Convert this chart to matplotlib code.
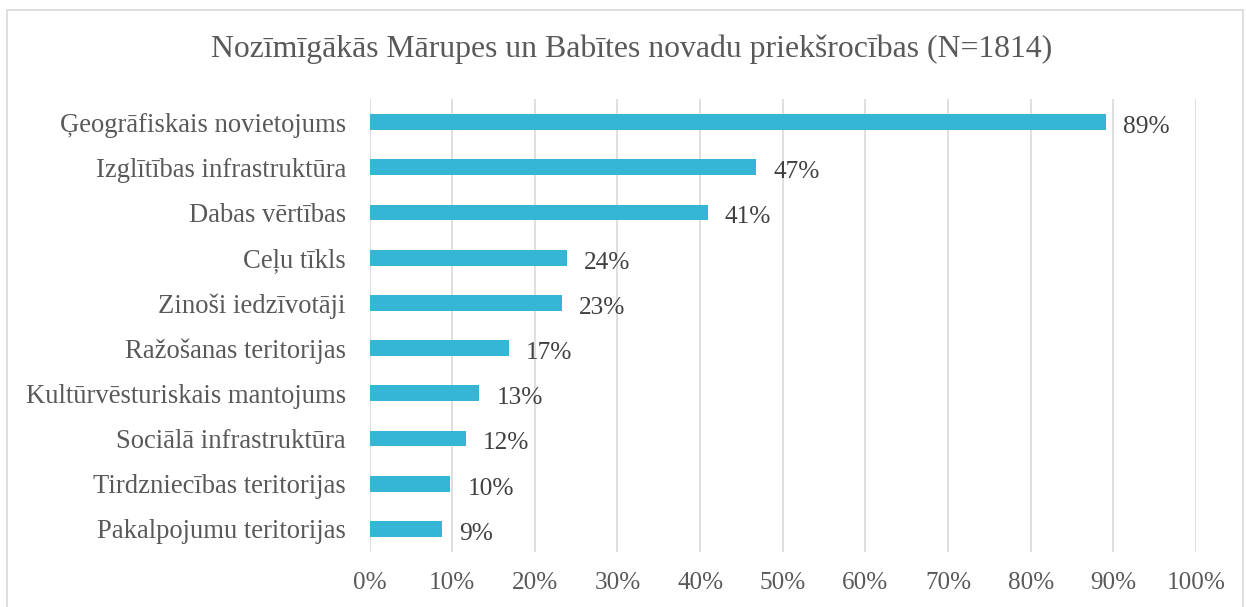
import matplotlib
matplotlib.use("Agg")
import matplotlib.pyplot as plt
from matplotlib.patches import Rectangle

title = "Nozīmīgākās Mārupes un Babītes novadu priekšrocības (N=1814)"
categories = [
    "Ģeogrāfiskais novietojums",
    "Izglītības infrastruktūra",
    "Dabas vērtības",
    "Ceļu tīkls",
    "Zinoši iedzīvotāji",
    "Ražošanas teritorijas",
    "Kultūrvēsturiskais mantojums",
    "Sociālā infrastruktūra",
    "Tirdzniecības teritorijas",
    "Pakalpojumu teritorijas",
]
values = [89.1, 46.8, 40.9, 23.9, 23.3, 16.9, 13.3, 11.7, 9.8, 8.8]
value_labels = ["89%", "47%", "41%", "24%", "23%", "17%", "13%", "12%", "10%", "9%"]
xticks = [0, 10, 20, 30, 40, 50, 60, 70, 80, 90, 100]
xtick_labels = [f"{t}%" for t in xticks]

plt.rcParams['font.family'] = ['Liberation Serif', 'DejaVu Serif']

W, H = 1246, 607
fig = plt.figure(figsize=(W / 100, H / 100), dpi=100)
ax = fig.add_axes([369.5 / W, 1 - 551.6 / H, (1196 - 369.5) / W, (551.6 - 99.4) / H])

# figure border
fig.patches.append(Rectangle((7 / W, -0.05), (1243 - 7) / W, (1 - 9.5 / H) + 0.05,
                             transform=fig.transFigure, fill=False,
                             edgecolor='#d9d9d9', linewidth=1.2, zorder=0))

ypos = list(range(len(categories)))
ax.barh(ypos, values, height=0.35, color='#35B6D4', zorder=3)
ax.set_ylim(len(categories) - 0.5, -0.5)
ax.set_xlim(0, 100)

for y, v, lab in zip(ypos, values, value_labels):
    ax.annotate(lab, (v, y), xytext=(12.2, -7.8), textcoords='offset points',
                ha='left', va='baseline', fontsize=18.3, color='#404040')

ax.set_yticks(ypos)
ax.set_yticklabels(categories, fontsize=19.2, color='#595959')
ax.set_xticks(xticks)
ax.set_xticklabels(xtick_labels, fontsize=18.1, color='#595959')
ax.tick_params(axis='y', length=0, pad=17)
ax.tick_params(axis='x', length=0, pad=15)
for t in ax.get_yticklabels():
    t.set_verticalalignment('center_baseline')
ax.grid(axis='x', color='#d9d9d9', linewidth=1.2, zorder=0)
ax.set_axisbelow(True)
for s in ax.spines.values():
    s.set_visible(False)

fig.text(631.5 / W, 1 - 49 / H, title, ha='center', va='center', fontsize=22.9, color='#595959')

fig.savefig("out.png", dpi=100)
